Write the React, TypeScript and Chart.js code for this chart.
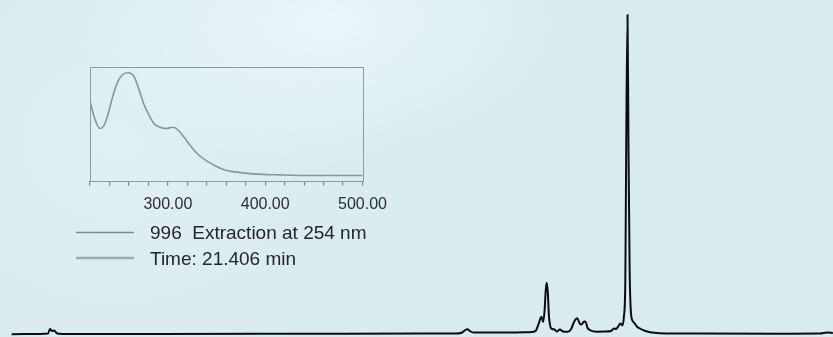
import React, { useEffect, useRef } from "react";
import { Chart, registerables } from "chart.js";

Chart.register(...registerables);

// Chromatogram (retention time in minutes, detector response)
const retentionTime = [
  0.04, 1.02, 1.3, 1.37, 1.44, 1.51, 1.61, 1.79, 4.84, 10.04, 14.21, 15.42, 15.63, 15.73, 15.85, 15.94,
  16.05, 16.63, 17.33, 17.85, 18.09, 18.23, 18.32, 18.42, 18.48, 18.53, 18.57, 18.6, 18.64, 18.68, 18.73,
  18.79, 18.86, 18.95, 19.06, 19.17, 19.34, 19.45, 19.55, 19.66, 19.76, 19.81, 19.9, 19.95, 20.02, 20.1,
  20.34, 20.62, 20.83, 20.94, 21.01, 21.09, 21.16, 21.23, 21.28, 21.33, 21.36, 21.406, 21.44, 21.48, 21.51,
  21.54, 21.6, 21.67, 21.73, 21.84, 21.98, 22.19, 22.53, 23.92, 26.7, 28.08, 28.33, 28.53,
];
const response = [
  -0.08, 0.0, 0.15, 1.63, 0.97, 1.14, 0.22, 0.0, 0.0, 0.05, 0.12, 0.15, 0.32, 0.97, 1.53, 0.97,
  0.48, 0.45, 0.51, 0.55, 0.65, 1.14, 3.28, 5.69, 3.94, 7.89, 14.48, 16.88, 13.82, 5.92, 2.39,
  1.63, 1.53, 0.81, 1.47, 0.81, 0.74, 1.63, 3.94, 5.16, 3.28, 3.12, 4.1, 4.04, 1.96, 1.3,
  0.74, 0.78, 0.97, 1.8, 1.63, 2.62, 3.45, 2.79, 5.59, 17.77, 60.59, 105.1, 60.59, 21.07, 9.54,
  5.59, 4.1, 3.28, 2.46, 1.8, 1.14, 0.55, 0.25, 0.12, 0.09, 0.15, 0.48, 0.32,
];

// Inset UV spectrum (wavelength in nm, relative absorbance)
const wavelength = [
  220, 224, 227, 230, 234, 238, 243, 248, 253, 259, 265, 270, 275, 281, 286, 292, 298, 305, 310, 316,
  323, 330, 339, 347, 357, 371, 388, 415, 449, 500,
];
const absorbanceUV = [
  0.7, 0.57, 0.5, 0.46, 0.48, 0.57, 0.73, 0.86, 0.93, 0.95, 0.92, 0.81, 0.68, 0.57, 0.5, 0.47, 0.46,
  0.47, 0.45, 0.39, 0.31, 0.24, 0.18, 0.14, 0.1, 0.076, 0.061, 0.052, 0.046, 0.046,
];
const spectrumTickLabels = [300, 400, 500];
const legendLabels = ["996  Extraction at 254 nm", "Time: 21.406 min"];

const legendPlugin = {
  id: "spectrumLegend",
  afterDraw(chart: any) {
    const ctx = chart.ctx as CanvasRenderingContext2D;
    const colors = ["#7f8b8e", "#9eabae"];
    const widths = [1.3, 2.4];
    ctx.save();
    legendLabels.forEach((label, i) => {
      const ly = 232.5 + i * 25.5;
      ctx.strokeStyle = colors[i];
      ctx.lineWidth = widths[i];
      ctx.beginPath();
      ctx.moveTo(76, ly);
      ctx.lineTo(134, ly);
      ctx.stroke();
      ctx.fillStyle = "#262626";
      ctx.font = '19px "Liberation Sans", Arial, sans-serif';
      ctx.textBaseline = "middle";
      ctx.textAlign = "left";
      ctx.fillText(label, 150, ly + 1.5);
    });
    ctx.restore();
  },
};

const boxPlugin = {
  id: "insetBox",
  afterDatasetsDraw(chart: any) {
    const { ctx, chartArea } = chart;
    ctx.save();
    ctx.strokeStyle = "#8d9b9f";
    ctx.lineWidth = 1;
    ctx.strokeRect(
      Math.round(chartArea.left) + 0.5,
      Math.round(chartArea.top) + 0.5,
      Math.round(chartArea.right - chartArea.left),
      Math.round(chartArea.bottom - chartArea.top)
    );
    ctx.restore();
  },
};

export default function App() {
  const mainRef = useRef<HTMLCanvasElement | null>(null);
  const insetRef = useRef<HTMLCanvasElement | null>(null);

  useEffect(() => {
    const main = new Chart(mainRef.current as HTMLCanvasElement, {
      type: "line",
      data: {
        datasets: [
          {
            data: retentionTime.map((t, i) => ({ x: t, y: response[i] })),
            borderColor: "#0c0c0c",
            borderWidth: 2,
            pointRadius: 0,
            fill: false,
            cubicInterpolationMode: "monotone",
          },
        ],
      },
      options: {
        animation: false,
        responsive: false,
        maintainAspectRatio: false,
        layout: { padding: 0 },
        plugins: { legend: { display: false }, tooltip: { enabled: false } },
        scales: {
          x: { type: "linear", display: false, min: -0.365, max: 28.535 },
          y: { type: "linear", display: false, min: -1, max: 110 },
        },
      },
      plugins: [legendPlugin],
    } as any);

    const inset = new Chart(insetRef.current as HTMLCanvasElement, {
      type: "line",
      data: {
        datasets: [
          {
            data: wavelength.map((w, i) => ({ x: w, y: absorbanceUV[i] })),
            borderColor: "#8a9699",
            borderWidth: 1.6,
            pointRadius: 0,
            fill: false,
            cubicInterpolationMode: "monotone",
          },
        ],
      },
      options: {
        animation: false,
        responsive: false,
        maintainAspectRatio: false,
        layout: { padding: { left: 10, top: 11, right: 33, bottom: 0 } },
        plugins: { legend: { display: false }, tooltip: { enabled: false } },
        scales: {
          x: {
            type: "linear",
            min: 220,
            max: 500,
            border: { display: false },
            grid: {
              drawOnChartArea: false,
              drawTicks: true,
              tickLength: 5,
              lineWidth: 1.2,
              color: "#7f8d91",
              tickColor: "#7f8d91",
            },
            ticks: {
              stepSize: 20,
              autoSkip: false,
              maxRotation: 0,
              padding: 9,
              color: "#2e2e2e",
              font: { family: '"Liberation Sans", Arial, sans-serif', size: 16 },
              callback: (v: any) => (spectrumTickLabels.includes(Number(v)) ? Number(v).toFixed(2) : ""),
            },
          },
          y: { type: "linear", display: false, min: 0, max: 1 },
        },
      },
      plugins: [boxPlugin],
    } as any);

    return () => {
      main.destroy();
      inset.destroy();
    };
  }, []);

  return (
    <div
      style={{
        position: "fixed",
        left: 0,
        top: 0,
        width: 833,
        height: 337,
        overflow: "hidden",
        background:
          "radial-gradient(ellipse 260px 150px at 330px 20px, rgba(240,249,251,0.75), rgba(240,249,251,0) 100%), radial-gradient(ellipse 300px 260px at 120px 140px, rgba(232,244,247,0.5), rgba(232,244,247,0) 100%), #d8ebef",
      }}
    >
      <canvas
        ref={mainRef}
        width={833}
        height={337}
        style={{ position: "absolute", left: 0, top: 0, width: 833, height: 337 }}
      />
      <canvas
        ref={insetRef}
        width={316}
        height={167}
        style={{ position: "absolute", left: 80, top: 56, width: 316, height: 167 }}
      />
    </div>
  );
}
